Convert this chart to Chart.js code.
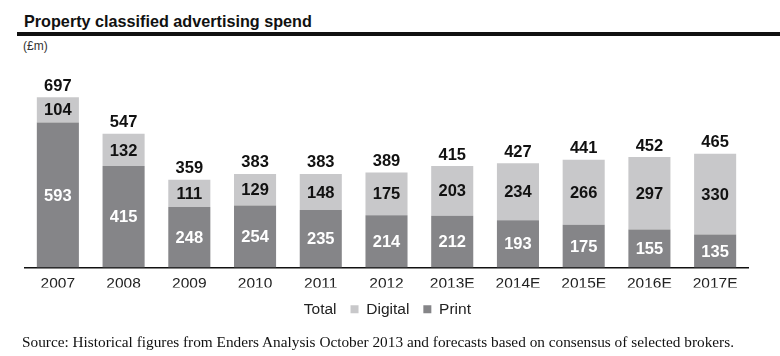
<!DOCTYPE html>
<html>
<head>
<meta charset="utf-8">
<script src="https://cdn.jsdelivr.net/npm/chart.js@4/dist/chart.umd.min.js"></script>
<style>
  html, body { margin: 0; padding: 0; background: #fff; }
  #wrap { position: relative; width: 780px; height: 356px; overflow: hidden; font-family: "Liberation Sans", Arial, sans-serif; }
  #title { position: absolute; left: 24px; top: 12px; font-weight: bold; font-size: 16.2px; color: #111; white-space: nowrap; }
  #rule { position: absolute; left: 17px; top: 32px; width: 763px; height: 4px; background: #111; }
  #unit { position: absolute; left: 23px; top: 39px; font-size: 12px; color: #333; }
  #src { position: absolute; left: 22px; top: 333px; font-family: "Liberation Serif", "Times New Roman", serif; font-size: 15.3px; color: #111; white-space: nowrap; }
  canvas { position: absolute; left: 0; top: 0; }
</style>
</head>
<body>
<div id="wrap">
  <div id="title">Property classified advertising spend</div>
  <div id="rule"></div>
  <div id="unit">(£m)</div>
  <canvas id="c" width="780" height="356"></canvas>
  <div id="src">Source: Historical figures from Enders Analysis October 2013 and forecasts based on consensus of selected brokers.</div>
</div>
<script>
const categories = ["2007","2008","2009","2010","2011","2012","2013E","2014E","2015E","2016E","2017E"];
const printValues = [593, 415, 248, 254, 235, 214, 212, 193, 175, 155, 135];
const digitalValues = [104, 132, 111, 129, 148, 175, 203, 234, 266, 297, 330];
const totalValues = [697, 547, 359, 383, 383, 389, 415, 427, 441, 452, 465];

const PRINT_COLOR = "#858588";
const DIGITAL_COLOR = "#c8c8ca";
const FONT = "'Liberation Sans', Arial, sans-serif";

const labelPlugin = {
  id: "barLabels",
  afterLayout(chart) {
    if (chart.legend) { chart.legend.left -= 7; chart.legend.right -= 7; }
  },
  afterDatasetsDraw(chart) {
    const ctx = chart.ctx;
    ctx.save();
    ctx.textAlign = "center";
    ctx.textBaseline = "middle";
    ctx.font = "bold 16.5px " + FONT;
    chart.data.datasets.forEach((ds, di) => {
      const meta = chart.getDatasetMeta(di);
      meta.data.forEach((el, i) => {
        const v = ds.data[i];
        if (ds.label === "Total") {
          ctx.fillStyle = "#111";
          ctx.fillText(String(v), el.x, el.y - 11);
        } else {
          const y = (el.y + el.base) / 2;
          ctx.fillStyle = ds.label === "Print" ? "#ffffff" : "#111";
          ctx.fillText(String(v), el.x, y + 1);
        }
      });
    });
    ctx.restore();
  }
};

new Chart(document.getElementById("c"), {
  data: {
    labels: categories,
    datasets: [
      { type: "bar", label: "Print", data: printValues, backgroundColor: PRINT_COLOR, stack: "s", barPercentage: 0.64, categoryPercentage: 1.0 },
      { type: "bar", label: "Digital", data: digitalValues, backgroundColor: DIGITAL_COLOR, stack: "s", barPercentage: 0.64, categoryPercentage: 1.0 },
      { type: "line", label: "Total", data: totalValues, showLine: false, pointRadius: 0, pointHoverRadius: 0, borderColor: "rgba(0,0,0,0)", backgroundColor: "rgba(0,0,0,0)" }
    ]
  },
  options: {
    responsive: false,
    animation: false,
    layout: { padding: { left: 25, right: 32, top: 72, bottom: 29 } },
    scales: {
      x: {
        stacked: true,
        grid: { display: false, drawTicks: false },
        border: { display: true, color: "#111", width: 1.5 },
        ticks: { color: "#222", font: { family: FONT, size: 15.5 }, padding: 7 },
        afterFit(scale) { scale.height = 20; }
      },
      y: {
        stacked: true,
        display: false,
        min: 0,
        max: 800
      }
    },
    plugins: {
      tooltip: { enabled: false },
      legend: {
        position: "bottom",
        labels: {
          color: "#222",
          font: { family: FONT, size: 15.5 },
          boxWidth: 8,
          boxHeight: 8,
          padding: 14,
          sort: (a, b) => b.datasetIndex - a.datasetIndex,
          generateLabels(chart) {
            return chart.data.datasets.map((ds, i) => ({
              text: ds.label,
              fillStyle: ds.label === "Total" ? "rgba(0,0,0,0)" : ds.backgroundColor,
              strokeStyle: "rgba(0,0,0,0)",
              lineWidth: 0,
              hidden: false,
              datasetIndex: i,
              fontColor: "#222"
            }));
          }
        }
      }
    }
  },
  plugins: [labelPlugin]
});
</script>
</body>
</html>
